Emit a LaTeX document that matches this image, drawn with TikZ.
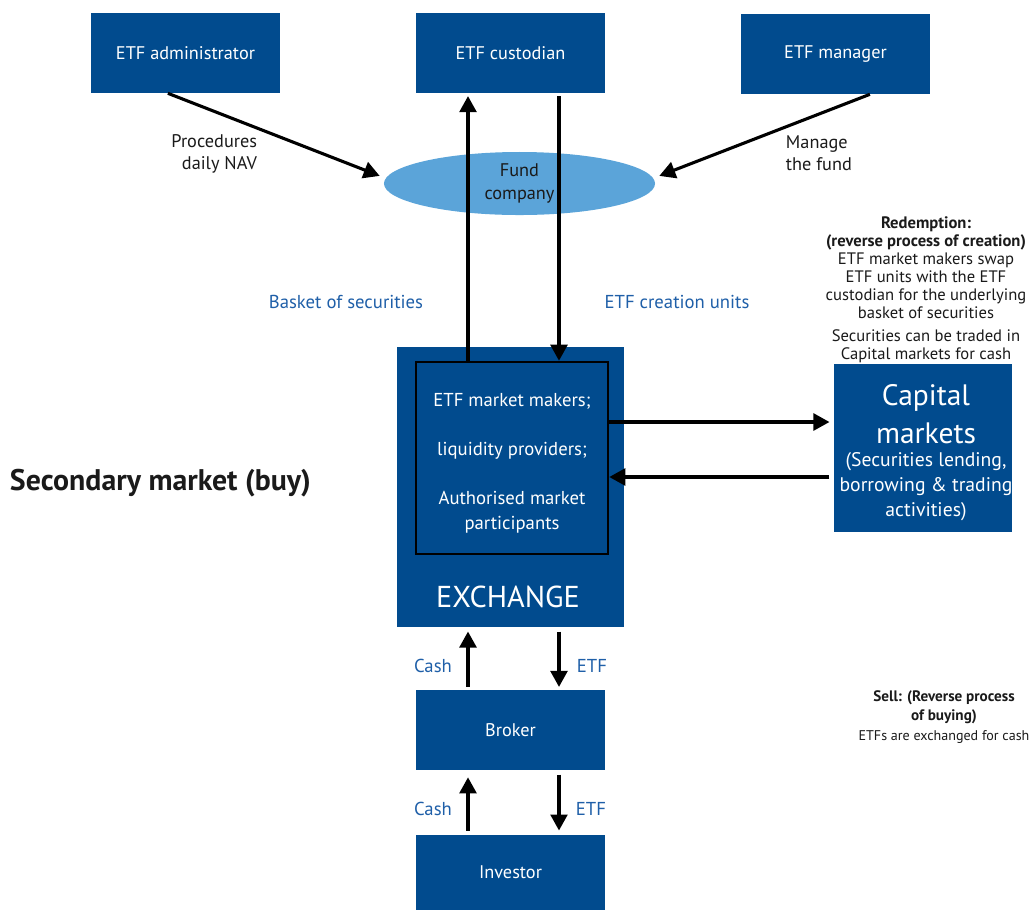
\documentclass[tikz,border=0pt]{standalone}
\usepackage{fontspec}
\setmainfont{PT Sans}
\usetikzlibrary{arrows.meta,shapes.geometric,positioning}
\definecolor{etfblue}{HTML}{014B8E}
\definecolor{fundblue}{HTML}{5BA4D9}
\definecolor{labelblue}{HTML}{1F5FA8}
\definecolor{inktext}{HTML}{1A1A1A}
\newcommand{\capbig}{\fontsize{21}{26}\selectfont}
\newcommand{\capsmall}{\fontsize{14}{17.8}\selectfont}

\tikzset{
	box/.style={fill=etfblue, text=white, minimum width=4.725cm, minimum height=2cm, inner sep=0pt, align=center, font=\fontsize{13}{15}\selectfont},
	arr/.style={line width=2.2pt, -{Triangle[length=0.4cm,width=0.42cm]}},
	flow/.style={text=labelblue, font=\fontsize{13.3}{15}\selectfont},
	note/.style={text=inktext, align=center, font=\fontsize{11.8}{12.8}\selectfont}
}

\begin{document}
\begin{tikzpicture}[x=0.025cm, y=-0.025cm]
			%%%%% START %%%%%
			\useasboundingbox (0,0) rectangle (1033,910);
			
			\node[box] (admin) at (185.5,53) {ETF administrator};
			\node[box] (cust) at (510.5,53) {ETF custodian};
			\node[box] (mgr) at (835.5,54) {ETF manager};
			
			\node[ellipse, fill=fundblue, text=inktext, minimum width=6.775cm, minimum height=1.575cm, inner sep=0pt, align=center, font=\fontsize{13}{16.5}\selectfont] (fund) at (519.5,183.5) {Fund\\company};
			
			\node[text=inktext, align=right, anchor=east, font=\fontsize{13}{15.6}\selectfont] (nav) at (262,154) {Procedures\\daily NAV};
			\node[text=inktext, align=left, anchor=west, font=\fontsize{13}{15.6}\selectfont] (manage) at (781,153) {Manage\\the fund};
			
			\draw[arr] ([xshift=-0.44cm]admin.south) -- ([xshift=-0.1cm, yshift=0.19cm]fund.west);
			\draw[arr] ([xshift=0.86cm]mgr.south) -- ([xshift=0.1cm, yshift=0.19cm]fund.east);
			
			% exchange block
			\node[fill=etfblue, minimum width=5.675cm, minimum height=7cm, inner sep=0pt] (exch) at (510.5,487) {};
			\node[draw=black, line width=1.8pt, fill=etfblue, minimum width=4.8cm, minimum height=4.8cm, inner sep=0pt] (inner) at (512,458) {};
			\node[text=white, align=center, font=\fontsize{13.3}{17.8}\selectfont] (makers) at (512,463)
				{ETF market makers;\\[0.6cm] liquidity providers;\\[0.6cm] Authorised market\\participants};
			\node[text=white, font=\fontsize{21.5}{24}\selectfont] (exlabel) at (508,597) {EXCHANGE};
			
			\coordinate (upx) at (468,0);
			\coordinate (dnx) at (559,0);
			\draw[arr, shorten >=2pt] (inner.north -| upx) -- (cust.south -| upx);
			\draw[arr, shorten <=2pt] (cust.south -| dnx) -- (inner.north -| dnx);
			
			\node[flow] (basket) at (346,302) {Basket of securities};
			\node[flow] (units) at (677,302) {ETF creation units};
			
			% capital markets
			\node[fill=etfblue, minimum width=4.45cm, minimum height=4.2cm, inner sep=0pt] (cap) at (923,448) {};
			\node[text=white, align=center, font=\capsmall] (captext) at (926,453)
				{\capbig Capital\\[0.25cm]\capbig markets\\[-0.05cm]\capsmall (Securities lending,\\borrowing \& trading\\activities)};
			
			\coordinate (ry) at (0,422);
			\coordinate (ly) at (0,477);
			\draw[arr, shorten >=3pt] (inner.east |- ry) -- (cap.west |- ry);
			\draw[arr, shorten <=3pt] (cap.west |- ly) -- (inner.east |- ly);
			
			\node[note, anchor=north] (redeem) at (926,212)
				{\textbf{Redemption:}\\\textbf{(reverse process of creation)}\\ETF market makers swap\\ETF units with the ETF\\custodian for the underlying\\basket of securities\\[0.12cm]Securities can be traded in\\Capital markets for cash};
			
			\node[text=inktext, anchor=west, font=\fontsize{21.2}{24}\selectfont\bfseries] (secondary) at (5,483) {Secondary market (buy)};
			
			% broker and investor
			\node[box] (broker) at (510.5,730) {Broker};
			\node[box, minimum height=1.875cm] (investor) at (510.5,872.5) {Investor};
			
			\draw[arr, shorten <=2pt, shorten >=3pt] (broker.north -| upx) -- (exch.south -| upx);
			\draw[arr, shorten <=3pt, shorten >=2pt] (exch.south -| dnx) -- (broker.north -| dnx);
			\draw[arr, shorten <=3pt, shorten >=5pt] (investor.north -| upx) -- (broker.south -| upx);
			\draw[arr, shorten <=3pt, shorten >=3pt] (broker.south -| dnx) -- (investor.north -| dnx);
			
			\node[flow] (cash1) at (433,666) {Cash};
			\node[flow] (etf1) at (592,666) {ETF};
			\node[flow] (cash2) at (433,809) {Cash};
			\node[flow] (etf2) at (591,809) {ETF};
			
			\node[note, font=\fontsize{10.8}{14}\selectfont] (sell) at (944,717)
				{\textbf{Sell: (Reverse process}\\\textbf{of buying)}\\\fontsize{10}{14}\selectfont ETFs are exchanged for cash};
			%%%%% END %%%%%
\end{tikzpicture}
\end{document}
